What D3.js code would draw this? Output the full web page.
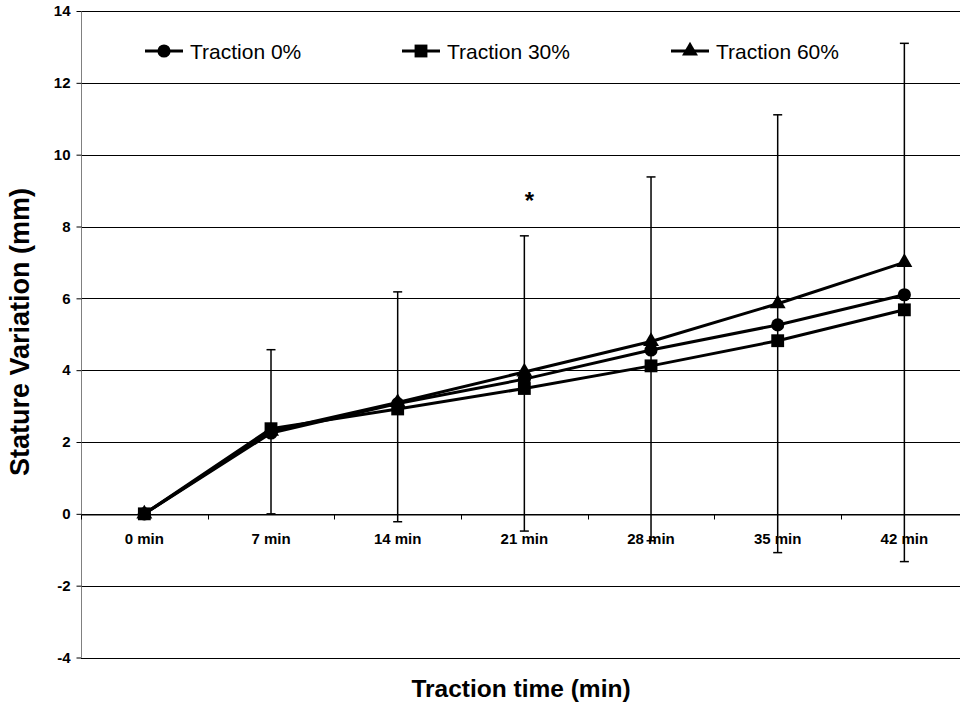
<!DOCTYPE html>
<html>
<head>
<meta charset="utf-8">
<script src="https://cdn.jsdelivr.net/npm/d3@7"></script>
<style>
  body { margin: 0; background: #fff; }
  svg { display: block; font-family: Arial, "Liberation Sans", sans-serif; }
</style>
</head>
<body>
<div id="chart"></div>
<script>
// chart values
var categories = ["0 min", "7 min", "14 min", "21 min", "28 min", "35 min", "42 min"];
var seriesNames = ["Traction 0%", "Traction 30%", "Traction 60%"];
var traction0 = [0, 2.25, 3.07, 3.75, 4.56, 5.26, 6.10];
var traction30 = [0, 2.37, 2.92, 3.49, 4.12, 4.82, 5.68];
var traction60 = [0, 2.30, 3.10, 3.95, 4.80, 5.85, 7.00];
var errUpper = [null, 4.57, 6.18, 7.74, 9.38, 11.11, 13.10];
var errLower = [null, 0.00, -0.22, -0.48, -0.75, -1.08, -1.33];
var yTicks = [-4, -2, 0, 2, 4, 6, 8, 10, 12, 14];
var starCategory = "21 min";

var width = 960, height = 705;
var plot = {left: 81, right: 967.7, top: 11, bottom: 657.5};

var svg = d3.select("#chart").append("svg")
    .attr("width", width)
    .attr("height", height);

var x = d3.scaleBand()
    .domain(categories)
    .range([plot.left, plot.right])
    .padding(0);

var y = d3.scaleLinear()
    .domain([-4, 14])
    .range([plot.bottom, plot.top]);

function cx(c) { return x(c) + x.bandwidth() / 2; }

// gridlines
svg.append("g")
    .selectAll("line")
    .data(yTicks)
    .enter()
    .append("line")
    .attr("x1", plot.left)
    .attr("x2", plot.right)
    .attr("y1", d => Math.round(y(d)) + 0.5)
    .attr("y2", d => Math.round(y(d)) + 0.5)
    .attr("stroke", "#000")
    .attr("stroke-width", 1);

// y axis
var yAxis = d3.axisLeft(y)
    .tickValues(yTicks)
    .tickFormat(d => String(d))
    .tickSize(5)
    .tickPadding(6);

var yg = svg.append("g")
    .attr("transform", "translate(" + (plot.left + 0.5) + ",0)")
    .call(yAxis);
yg.select(".domain").attr("stroke", "#808080").attr("d", "M0," + plot.top + "V" + plot.bottom);
yg.selectAll(".tick line").attr("stroke", "#000");
yg.selectAll(".tick text")
    .attr("fill", "#000")
    .style("font-size", "15px")
    .style("font-weight", "bold")
    .style("font-family", "Arial, 'Liberation Sans', sans-serif");

// x axis along zero
var xAxis = d3.axisBottom(x)
    .tickSize(0)
    .tickPadding(19);

var xg = svg.append("g")
    .attr("transform", "translate(0," + (Math.round(y(0)) + 0.5) + ")")
    .call(xAxis);
xg.select(".domain").attr("stroke", "#000");
xg.selectAll(".tick text")
    .attr("fill", "#000")
    .style("font-size", "15px")
    .style("font-weight", "bold")
    .style("font-family", "Arial, 'Liberation Sans', sans-serif");

// boundary tick marks between categories
xg.append("g")
    .selectAll("line")
    .data(categories)
    .enter()
    .append("line")
    .attr("x1", d => Math.round(x(d)) + 0.5)
    .attr("x2", d => Math.round(x(d)) + 0.5)
    .attr("y1", 0)
    .attr("y2", 5)
    .attr("stroke", "#000");

// error bars
var errData = categories.map(function (c, i) {
    return {cat: c, hi: errUpper[i], lo: errLower[i]};
}).filter(d => d.hi != null);

var eb = svg.append("g").attr("class", "errorbars");
eb.selectAll("line.bar")
    .data(errData)
    .enter()
    .append("line")
    .attr("class", "bar")
    .attr("x1", d => cx(d.cat))
    .attr("x2", d => cx(d.cat))
    .attr("y1", d => y(d.hi))
    .attr("y2", d => y(d.lo))
    .attr("stroke", "#000")
    .attr("stroke-width", 1.5);
eb.selectAll("line.capHi")
    .data(errData)
    .enter()
    .append("line")
    .attr("class", "capHi")
    .attr("x1", d => cx(d.cat) - 4.5)
    .attr("x2", d => cx(d.cat) + 4.5)
    .attr("y1", d => y(d.hi))
    .attr("y2", d => y(d.hi))
    .attr("stroke", "#000")
    .attr("stroke-width", 1.5);
eb.selectAll("line.capLo")
    .data(errData)
    .enter()
    .append("line")
    .attr("class", "capLo")
    .attr("x1", d => cx(d.cat) - 4.5)
    .attr("x2", d => cx(d.cat) + 4.5)
    .attr("y1", d => y(d.lo))
    .attr("y2", d => y(d.lo))
    .attr("stroke", "#000")
    .attr("stroke-width", 1.5);

// series
var series = [
    {name: seriesNames[0], values: traction0, symbol: d3.symbolCircle, size: 135},
    {name: seriesNames[1], values: traction30, symbol: d3.symbolSquare, size: 165},
    {name: seriesNames[2], values: traction60, symbol: d3.symbolTriangle, size: 110}
];
var drawOrder = [0, 2, 1];

var line = d3.line()
    .x((d, i) => cx(categories[i]))
    .y(d => y(d));

series.forEach(function (s) {
    svg.append("path")
        .datum(s.values)
        .attr("fill", "none")
        .attr("stroke", "#000")
        .attr("stroke-width", 3)
        .attr("d", line);
});

drawOrder.forEach(function (k) {
    var s = series[k];
    svg.append("g")
        .selectAll("path")
        .data(s.values)
        .enter()
        .append("path")
        .attr("transform", (d, i) => "translate(" + cx(categories[i]) + "," + y(d) + ")")
        .attr("d", d3.symbol().type(s.symbol).size(s.size))
        .attr("fill", "#000");
});

// significance mark
svg.append("text")
    .attr("x", cx(starCategory) + 5)
    .attr("y", 209)
    .attr("text-anchor", "middle")
    .style("font-size", "24px")
    .style("font-weight", "bold")
    .text("*");

// legend
var legendX = [145, 402, 671];
var legend = svg.append("g").attr("class", "legend");
series.forEach(function (s, i) {
    var g = legend.append("g")
        .attr("transform", "translate(" + legendX[i] + ",51)");
    g.append("line")
        .attr("x1", 0)
        .attr("x2", 38)
        .attr("stroke", "#000")
        .attr("stroke-width", 3);
    g.append("path")
        .attr("transform", "translate(19,0)")
        .attr("d", d3.symbol().type(s.symbol).size(s.size))
        .attr("fill", "#000");
    g.append("text")
        .attr("x", 45)
        .attr("y", 7.5)
        .style("font-size", "21px")
        .text(s.name);
});

// axis titles
svg.append("text")
    .attr("x", 521)
    .attr("y", 697)
    .attr("text-anchor", "middle")
    .style("font-size", "24.5px")
    .style("font-weight", "bold")
    .text("Traction time (min)");

svg.append("text")
    .attr("transform", "translate(29,332) rotate(-90)")
    .attr("text-anchor", "middle")
    .style("font-size", "27px")
    .style("font-weight", "bold")
    .text("Stature Variation (mm)");
</script>
</body>
</html>
